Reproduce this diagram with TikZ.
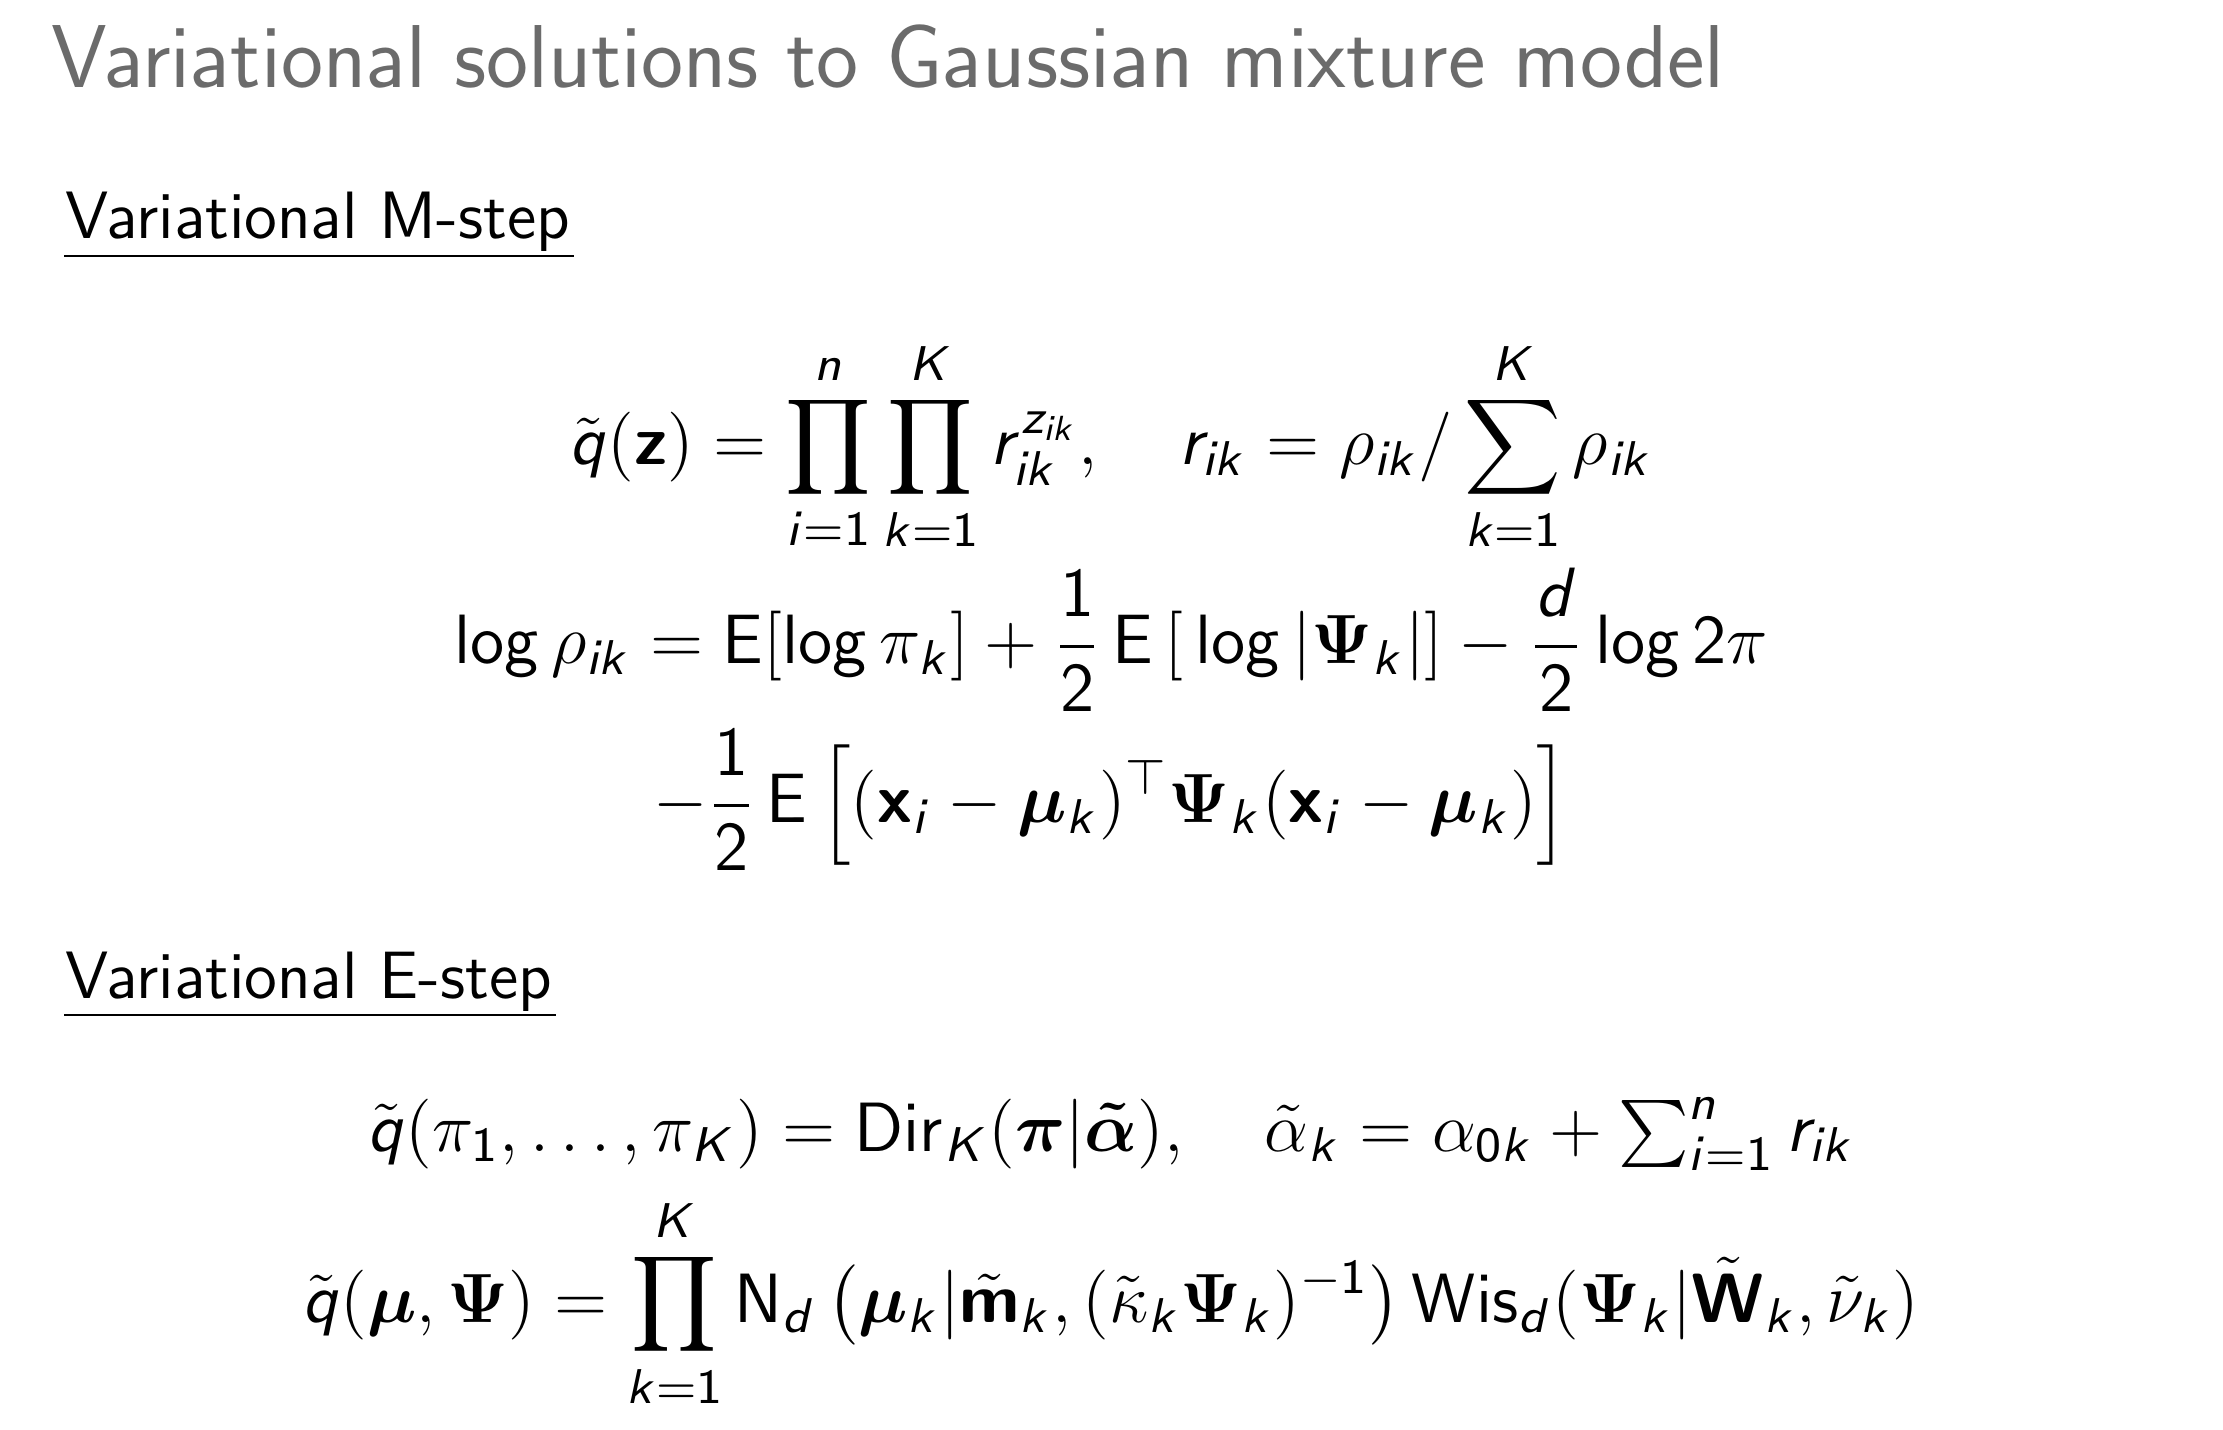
\RequirePackage{fix-cm}
\documentclass[tikz,border=0pt]{standalone}
\usepackage{amsmath}
\usepackage{bm}
\usetikzlibrary{calc}
\makeatletter
\DeclareSymbolFont{sfop}{OT1}{cmss}{m}{n}
\SetSymbolFont{sfop}{bold}{OT1}{cmss}{bx}{n}
\DeclareSymbolFont{sfit}{OT1}{cmss}{m}{sl}
\SetSymbolFont{sfit}{bold}{OT1}{cmss}{bx}{sl}
\DeclareSymbolFontAlphabet{\mathrm}{sfop}
\DeclareMathAlphabet{\mathbf}{OT1}{cmss}{bx}{n}
\renewcommand\operator@font{\mathgroup\symsfop}
\def\sfl#1{\DeclareMathSymbol{#1}{\mathalpha}{sfit}{`#1}}
\def\sfd#1{\DeclareMathSymbol{#1}{\mathalpha}{sfop}{`#1}}
\sfl a\sfl b\sfl c\sfl d\sfl e\sfl f\sfl g\sfl h\sfl i\sfl j\sfl k\sfl l\sfl m
\sfl n\sfl o\sfl p\sfl q\sfl r\sfl s\sfl t\sfl u\sfl v\sfl w\sfl x\sfl y\sfl z
\sfl A\sfl B\sfl C\sfl D\sfl E\sfl F\sfl G\sfl H\sfl I\sfl J\sfl K\sfl L\sfl M
\sfl N\sfl O\sfl P\sfl Q\sfl R\sfl S\sfl T\sfl U\sfl V\sfl W\sfl X\sfl Y\sfl Z
\sfd0\sfd1\sfd2\sfd3\sfd4\sfd5\sfd6\sfd7\sfd8\sfd9
\makeatother
\font\ttlfont=cmss17 at 16pt
\definecolor{titlegray}{gray}{0.42}
\tikzset{
  eqn/.style={anchor=base, inner sep=0pt, font=\fontsize{12.5}{15}\selectfont},
  ttl/.style={anchor=base west, inner sep=0pt, text=titlegray, font=\ttlfont},
  sect/.style={anchor=base west, inner sep=0pt, font=\sffamily\fontsize{12}{15}\selectfont},
  uline/.style={line width=0.5pt}
}
\begin{document}
\begin{tikzpicture}[x=0.062978mm,y=-0.062978mm]
\useasboundingbox[fill=white] (0,0) rectangle (2223,1430);
\node[ttl] (title) at (50,88) {Variational solutions to Gaussian mixture model};
\node[sect] (mstep) at (64,239) {Variational M-step};
\draw[uline] ($(mstep.base west)+(0,17)$) -- ($(mstep.base east)+(3,17)$);
\node[eqn] (eq1) at (1111,465) {$\displaystyle \tilde q(\mathbf z) = \prod_{i=1}^n\prod_{k=1}^K r_{ik}^{z_{ik}}, \quad r_{ik} = \rho_{ik}/\sum_{k=1}^K\rho_{ik}$};
\node[eqn] (eq2) at (1111,664) {$\displaystyle \log\rho_{ik} = \mathrm{E}[\log\pi_k] + \frac12\,\mathrm{E}\left[\,\log|\bm\Psi_k|\right] - \frac d2\log 2\pi$};
\node[eqn] (eq3) at (1111,823) {$\displaystyle -\frac12\,\mathrm{E}\,\Big[(\mathbf x_i-\bm\mu_k)^\top\bm\Psi_k(\mathbf x_i-\bm\mu_k)\Big]$};
\node[sect] (estep) at (64,998) {Variational E-step};
\draw[uline] ($(estep.base west)+(0,17)$) -- ($(estep.base east)+(3,17)$);
\node[eqn] (eq4) at (1111,1151) {$\displaystyle \tilde q(\pi_1,\dots,\pi_K) = \mathrm{Dir}_K(\bm\pi|\bm{\tilde\alpha}), \quad \tilde\alpha_k = \alpha_{0k} + \textstyle\sum_{i=1}^n r_{ik}$};
\node[eqn] (eq5) at (1111,1322) {$\displaystyle \tilde q(\bm\mu,\bm\Psi) = \prod_{k=1}^K \mathrm{N}_d\left(\bm\mu_k|\tilde{\mathbf m}_k,(\tilde\kappa_k\bm\Psi_k)^{-1}\right)\mathrm{Wis}_d(\bm\Psi_k|\tilde{\mathbf W}_k,\tilde\nu_k)$};
\end{tikzpicture}
\end{document}
